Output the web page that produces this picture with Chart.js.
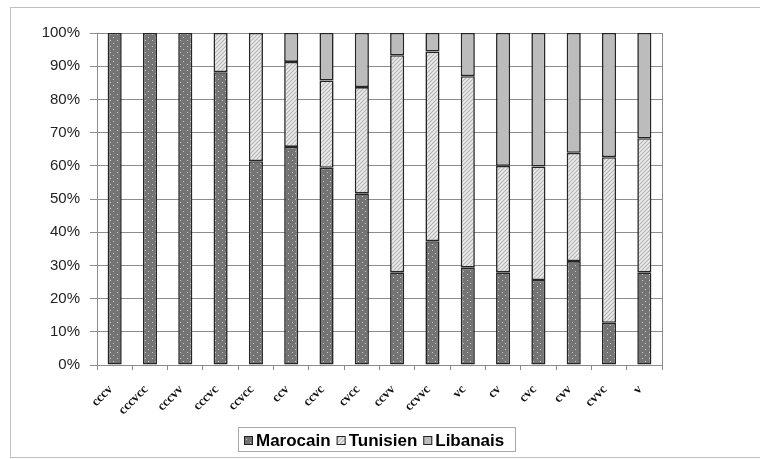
<html><head>
<meta charset="UTF-8">
<title>Marocain / Tunisien / Libanais</title>
<script src="https://cdn.jsdelivr.net/npm/chart.js"></script>
<style>
* { margin: 0; padding: 0; }
body { background: #fff; width: 760px; height: 459px; overflow: hidden; }
#wrap { position: relative; width: 760px; height: 459px; }
</style>
</head>
<body>
<div id="wrap"><canvas id="chart" width="760" height="459"></canvas></div>
<script>
const categories = ['cccv', 'cccvcc', 'cccvv', 'cccvc', 'ccvcc', 'ccv', 'ccvc', 'cvcc',
  'ccvv', 'ccvvc', 'vc', 'cv', 'cvc', 'cvv', 'cvvc', 'v'];
const marocain = [100, 100, 100, 88.2, 61.4, 65.7, 59.4, 51.7, 27.9, 37.3, 29.3, 27.9, 25.6, 31.3, 12.7, 27.9];
const tunisien = [0, 0, 0, 11.8, 38.6, 25.6, 26.3, 32.0, 65.4, 57.1, 57.7, 32.1, 34.2, 32.6, 49.9, 40.4];
const libanais = [0, 0, 0, 0, 0, 8.7, 14.3, 16.3, 6.7, 5.6, 13.0, 40.0, 40.2, 36.1, 37.4, 31.7];
const yTicks = [0, 10, 20, 30, 40, 50, 60, 70, 80, 90, 100];

const ctx = document.getElementById('chart').getContext('2d');

// fill patterns like the old spreadsheet chart
function dotPattern() {
  const c = document.createElement('canvas');
  c.width = 7; c.height = 6;
  const g = c.getContext('2d');
  g.fillStyle = '#747474';
  g.fillRect(0, 0, 7, 6);
  g.fillStyle = '#c8c8c8';
  g.fillRect(1, 1, 1, 1);
  g.fillRect(5, 4, 1, 1);
  return ctx.createPattern(c, 'repeat');
}
function hatchPattern() {
  const c = document.createElement('canvas');
  c.width = 4; c.height = 4;
  const g = c.getContext('2d');
  g.fillStyle = '#ececec';
  g.fillRect(0, 0, 4, 4);
  g.strokeStyle = '#b4b4b4';
  g.lineWidth = 1.2;
  g.beginPath();
  g.moveTo(-1, 5); g.lineTo(5, -1);
  g.moveTo(-1, 1); g.lineTo(1, -1);
  g.moveTo(3, 5); g.lineTo(5, 3);
  g.stroke();
  return ctx.createPattern(c, 'repeat');
}

const frameAndLegend = {
  id: 'frameAndLegend',
  beforeDraw(chart) {
    const g = chart.ctx;
    g.save();
    g.fillStyle = '#fff';
    g.fillRect(0, 0, chart.width, chart.height);
    g.strokeStyle = '#c0c0c0';
    g.lineWidth = 1;
    g.strokeRect(10.5, 7.5, 800, 450);
    g.restore();
  },
  afterDatasetsDraw(chart) {
    const a = chart.chartArea;
    const g = chart.ctx;
    g.save();
    g.strokeStyle = '#8c8c8c';
    g.lineWidth = 1;
    g.beginPath();
    g.moveTo(Math.round(a.right) + 0.5, a.top);
    g.lineTo(Math.round(a.right) + 0.5, a.bottom + 5);
    g.stroke();
    g.restore();
  },
  afterDraw(chart) {
    const g = chart.ctx;
    g.save();
    // legend box
    g.strokeStyle = '#a8a8a8';
    g.lineWidth = 1;
    g.strokeRect(238.5, 427.5, 277, 24);
    g.font = 'bold 17px "Liberation Sans", Arial, sans-serif';
    g.textBaseline = 'middle';
    let x = 244;
    const y = 440;
    chart.data.datasets.forEach(ds => {
      g.fillStyle = ds.backgroundColor;
      g.fillRect(x, y - 4, 9, 9);
      g.strokeStyle = '#222';
      g.strokeRect(x + 0.5, y - 3.5, 8, 8);
      g.fillStyle = '#000';
      g.fillText(ds.label, x + 12, y + 1);
      x += 12 + g.measureText(ds.label).width + 6;
    });
    g.restore();
  }
};

const common = {
  borderColor: '#262626',
  borderWidth: 1.6,
  borderSkipped: false,
  barPercentage: 0.4,
  categoryPercentage: 1.0
};

new Chart(ctx, {
  type: 'bar',
  data: {
    labels: categories,
    datasets: [
      Object.assign({ label: 'Marocain', data: marocain, backgroundColor: dotPattern() }, common),
      Object.assign({ label: 'Tunisien', data: tunisien, backgroundColor: hatchPattern() }, common),
      Object.assign({ label: 'Libanais', data: libanais, backgroundColor: '#bcbcbc' }, common)
    ]
  },
  options: {
    responsive: false,
    animation: false,
    layout: { padding: { left: 0, top: 33, right: 98, bottom: 0 } },
    plugins: {
      legend: { display: false },
      tooltip: { enabled: false }
    },
    scales: {
      x: {
        stacked: true,
        grid: { offset: true, drawOnChartArea: false, drawTicks: true, tickLength: 5, color: '#8c8c8c' },
        border: { color: '#8c8c8c' },
        ticks: {
          minRotation: 45, maxRotation: 45, autoSkip: false, padding: 12, labelOffset: -4,
          color: '#111',
          font: { family: '"Liberation Serif", "Times New Roman", serif', size: 13, weight: 'bold' }
        },
        afterFit(scale) { scale.height = 94; }
      },
      y: {
        stacked: true,
        min: 0, max: 100,
        afterBuildTicks(scale) { scale.ticks = yTicks.map(v => ({ value: v })); },
        grid: { color: '#8c8c8c', tickLength: 7 },
        border: { color: '#8c8c8c' },
        ticks: {
          padding: 10,
          color: '#222',
          font: { family: '"Liberation Sans", Arial, sans-serif', size: 15 },
          callback: v => v + '%'
        },
        afterFit(scale) { scale.width = 97; }
      }
    }
  },
  plugins: [frameAndLegend]
});
</script>
</body></html>
